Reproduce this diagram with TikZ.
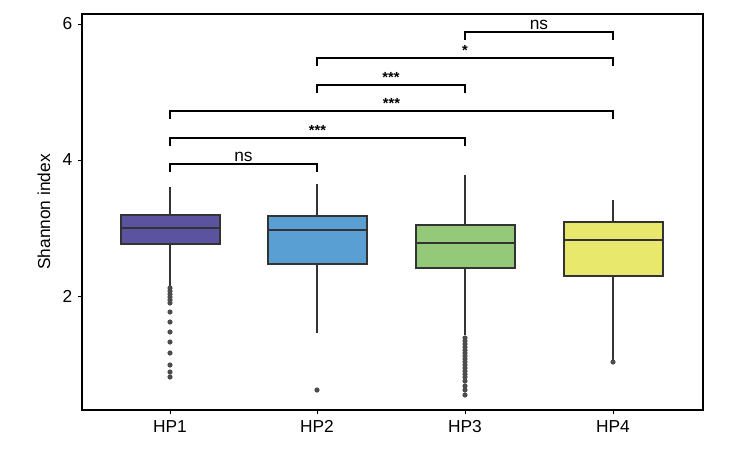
\documentclass[tikz,border=0pt]{standalone}
\usepackage{fontspec}
\setmainfont{Liberation Sans}
\begin{document}
\begin{tikzpicture}[x=0.75pt,y=-0.75pt,
  box/.style={draw=black!80,line width=0.9pt},
  wh/.style={draw=black!80,line width=0.9pt},
  brk/.style={draw=black,line width=1pt},
  outpt/.style={fill=black!70,draw=none},
  lbl/.style={font=\fontsize{13}{13}\selectfont},
  stars/.style={font=\bfseries\fontsize{11}{11}\selectfont}]
\useasboundingbox (0,0) rectangle (729,451);
\draw[line width=0.9pt] (82,14) rectangle (703,410);
% y ticks
\foreach \v/\yy in {6/24,4/160,2/296}{
  \draw (78,\yy) -- (82,\yy);
  \node[lbl,anchor=east] (t\v) at (77,\yy) {\v};}
\node[lbl,rotate=90] (ylab) at (44,212) {Shannon index};
% x ticks
\foreach \n/\xx in {1/170,2/317,3/465,4/613}{
  \draw (\xx,410) -- (\xx,414);
  \node[lbl,anchor=north] (x\n) at (\xx,416) {HP\n};}
\definecolor{c1}{HTML}{5B53A0}\definecolor{c2}{HTML}{5A9FD4}
\definecolor{c3}{HTML}{93C978}\definecolor{c4}{HTML}{E8E86C}
\foreach \xx/\a/\b/\m/\c/\d/\col in {170/187/215/228/244/287/c1,317/184/216/230/264/333/c2,465/175/225/243/268/335/c3,613/200/222/240/276/362/c4}{
  \draw[wh] (\xx,\a) -- (\xx,\b);
  \draw[wh] (\xx,\c) -- (\xx,\d);
  \draw[box,fill=\col] (\xx-49,\b) rectangle (\xx+50,\c);
  \draw[box] (\xx-49,\m) -- (\xx+50,\m);}
% outliers
\foreach \yy in {288,291,294,297,300,303,312,322,332,342,353,365,372,377}{\fill[outpt] (170,\yy) circle (2.6);}
\fill[outpt] (317,390) circle (2.6);
\foreach \yy in {338,341,344,347,350,353,356,359,362,365,368,371,374,377,381,386,390,395}{\fill[outpt] (465,\yy) circle (2.6);}
\fill[outpt] (613,362) circle (2.6);
% brackets
\foreach \xa/\xb/\yy/\t/\s [count=\i] in {465/613/32/ns/lbl,317/613/58/*/stars,317/465/85/***/stars,170/613/111/***/stars,170/465/138/***/stars,170/317/164/ns/lbl}{
  \draw[brk] (\xa,\yy+8) -- (\xa,\yy) -- (\xb,\yy) -- (\xb,\yy+8);
  \node[\s,anchor=south,inner sep=1pt] (s\i) at ({(\xa+\xb)/2},\yy-1) {\t};}
\end{tikzpicture}
\end{document}
